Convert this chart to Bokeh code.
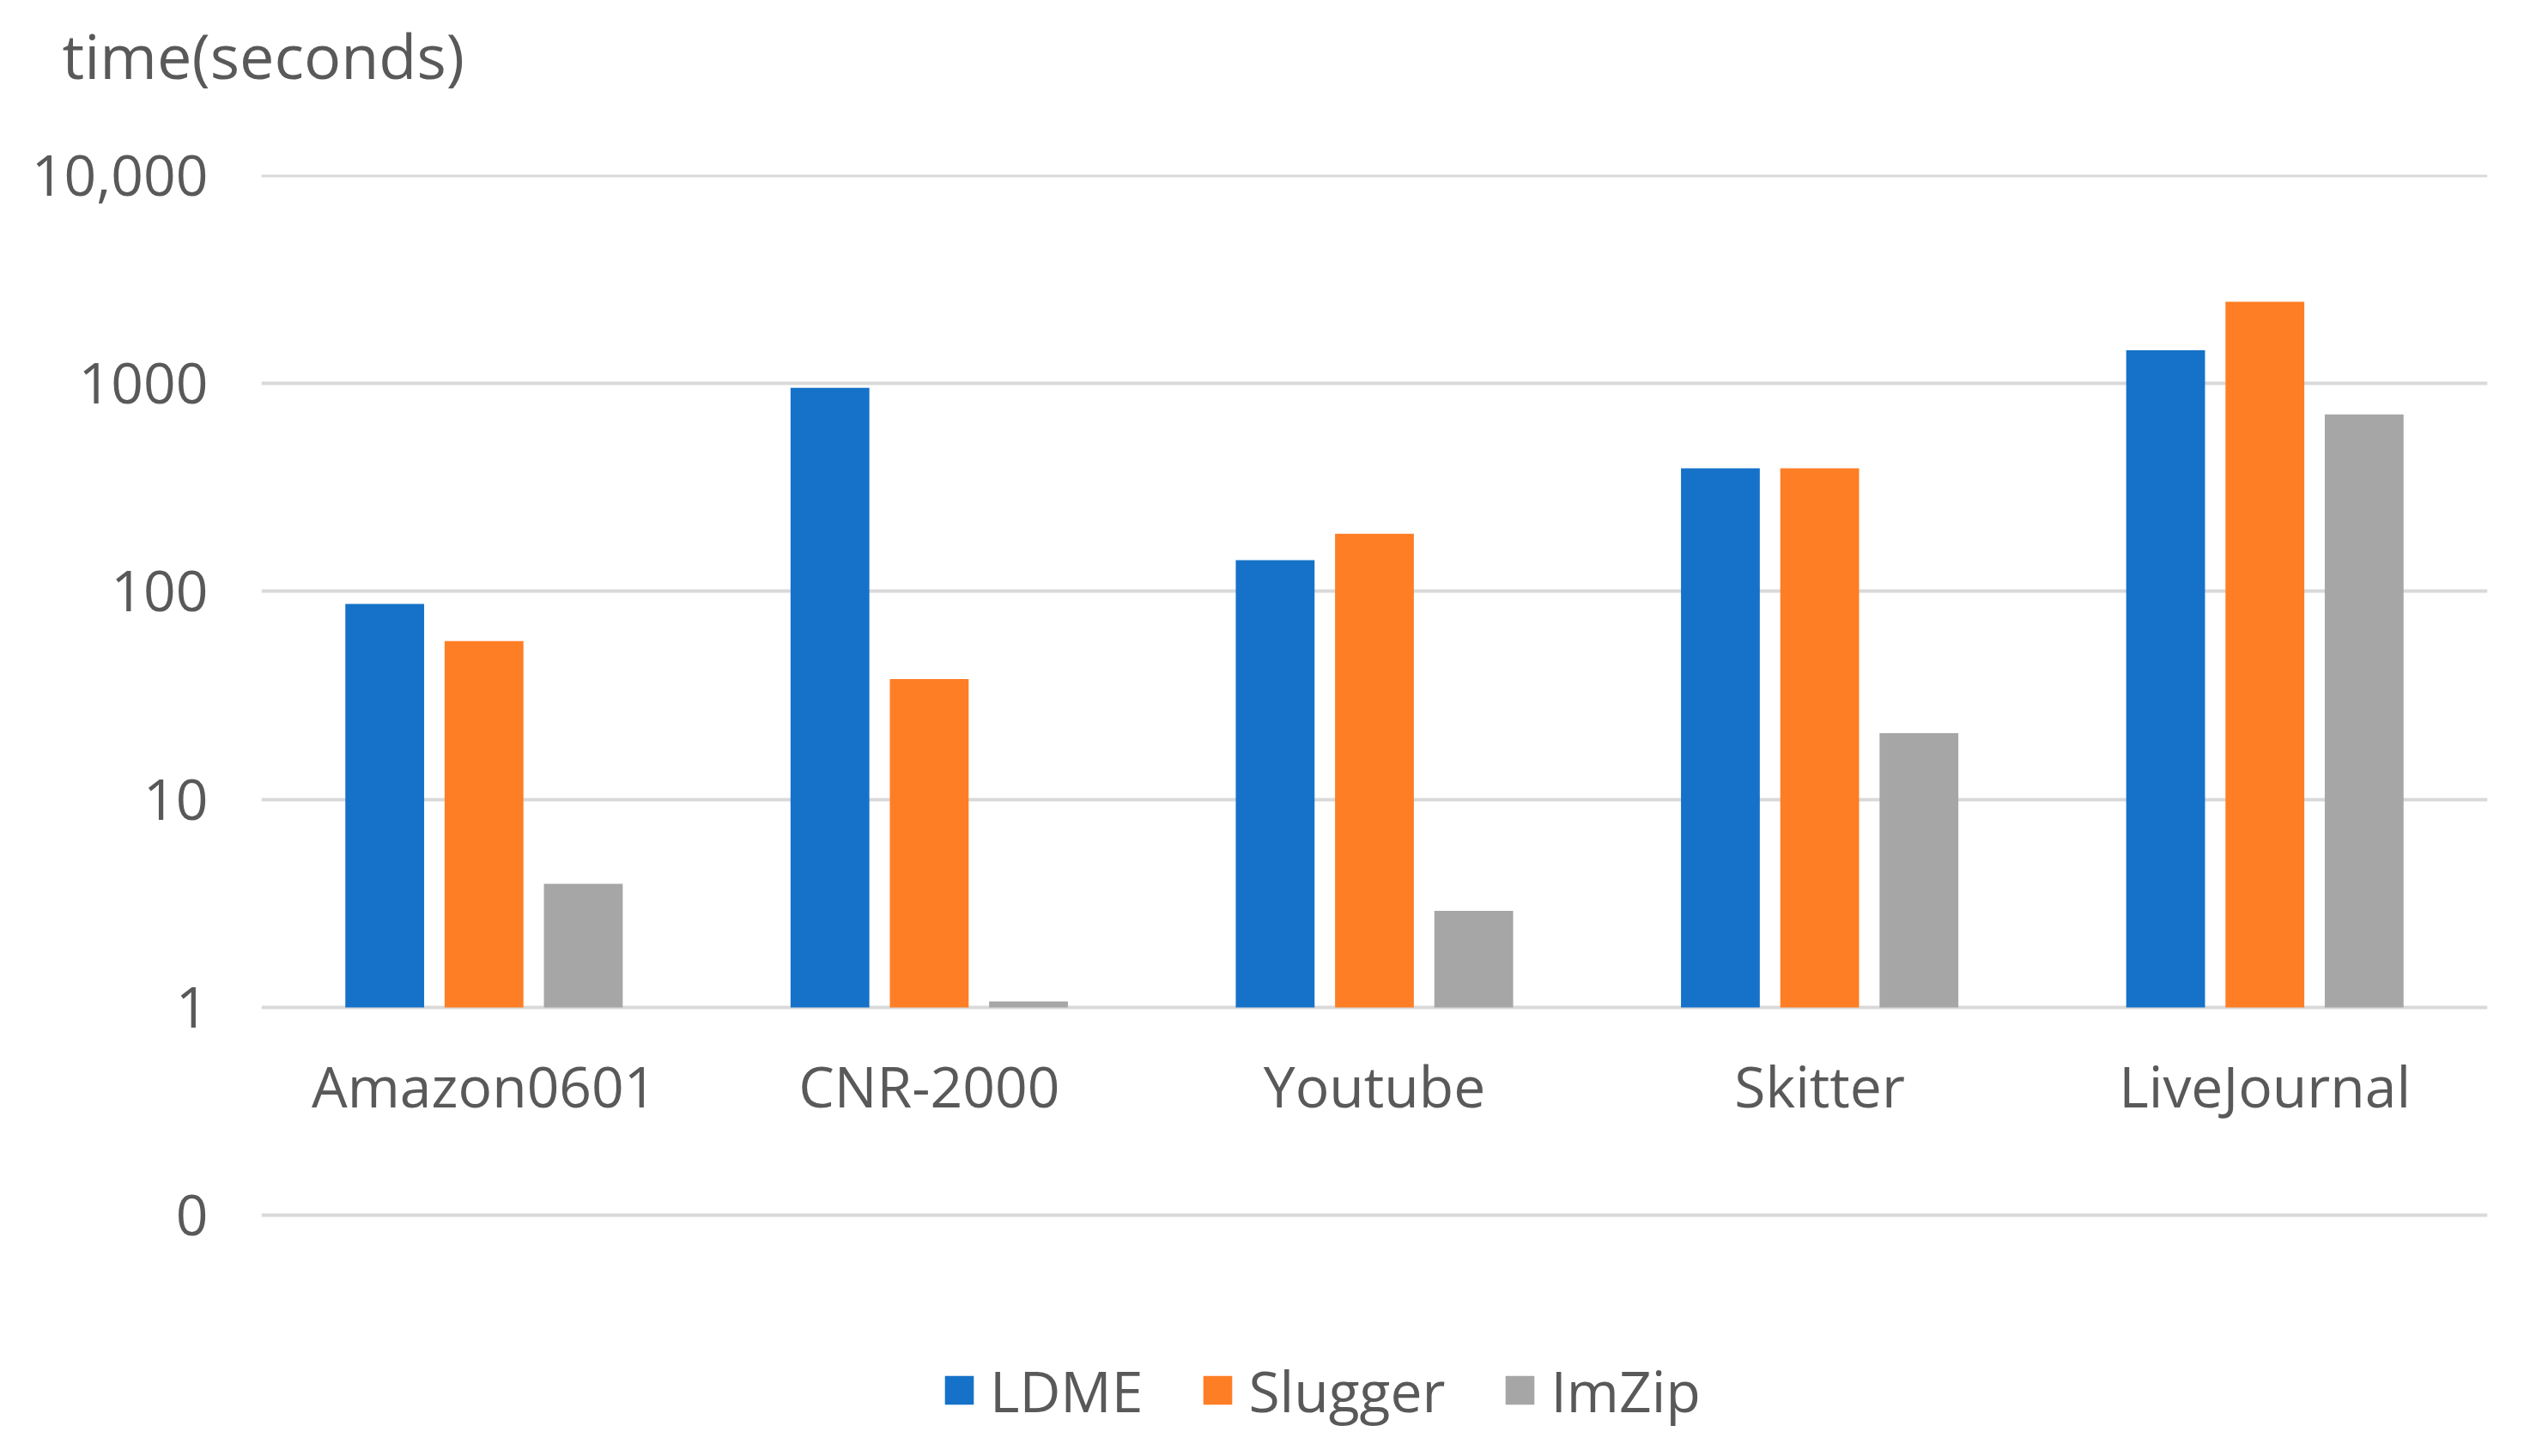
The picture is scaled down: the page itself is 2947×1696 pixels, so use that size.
from bokeh.plotting import figure
from bokeh.models import (ColumnDataSource, FactorRange, Range1d, FixedTicker,
                          Legend, LegendItem, Title)
from bokeh.transform import dodge
from bokeh.embed import file_html
from bokeh.resources import INLINE

# ---- data ----
datasets = ["Amazon0601", "CNR-2000", "Youtube", "Skitter", "LiveJournal"]
ldme = [87, 951, 141, 390, 1442]
slugger = [57.6, 37.9, 189, 390, 2462]
imzip = [3.93, 1.07, 2.91, 20.8, 708]
series_names = ["LDME", "Slugger", "ImZip"]
y_ticks = [0.1, 1, 10, 100, 1000, 10000]
y_tick_labels = ["0", "1", "10", "100", "1000", "10,000"]
title_text = "time(seconds)"

colors = ["#1572C8", "#FE7E25", "#A6A6A6"]
FONT = "Open Sans"
TXT = "#595959"
FS = "66px"

src = ColumnDataSource(data=dict(cat=datasets, LDME=ldme, Slugger=slugger,
                                 ImZip=imzip, base=[1] * len(datasets)))

W, H = 2930, 1680
# the frame runs down to the bottom of the canvas so that the legend sits inside it
p = figure(width=W, height=H, x_range=FactorRange(*datasets),
           y_range=Range1d(0.0081, 10050), y_axis_type="log",
           output_backend="svg", toolbar_location=None, title=None,
           min_border_left=304, min_border_right=33,
           min_border_top=203, min_border_bottom=0)
p.outline_line_color = None
p.background_fill_color = "white"
p.border_fill_color = "white"

offsets = [-0.223, 0.0, 0.223]
renderers = []
for name, off, col in zip(series_names, offsets, colors):
    r = p.vbar(x=dodge("cat", off, range=p.x_range), top=name, bottom="base",
               width=0.177, source=src, fill_color=col, line_color=None)
    renderers.append(r)

# grid
p.xgrid.grid_line_color = None
p.ygrid.grid_line_color = "#D9D9D9"
p.ygrid.grid_line_width = 4
p.ygrid.ticker = FixedTicker(ticks=y_ticks)

# y axis
yax = p.yaxis[0]
yax.ticker = FixedTicker(ticks=y_ticks)
yax.major_label_overrides = {t: l for t, l in zip(y_ticks, y_tick_labels)}
yax.axis_line_color = None
yax.major_tick_line_color = None
yax.minor_tick_line_color = None
yax.major_tick_out = 0
yax.major_tick_in = 0
yax.minor_tick_out = 0
yax.major_label_standoff = 62
yax.major_label_text_font = FONT
yax.major_label_text_font_size = FS
yax.major_label_text_color = TXT

# x axis drawn at y = 1
xax = p.xaxis[0]
xax.fixed_location = 1
xax.axis_line_color = None
xax.major_tick_line_color = None
xax.minor_tick_line_color = None
xax.major_tick_out = 0
xax.major_tick_in = 0
xax.major_label_standoff = 45
xax.major_label_text_font = FONT
xax.major_label_text_font_size = FS
xax.major_label_text_color = TXT

# legend
items = [LegendItem(label=n, renderers=[r]) for n, r in zip(series_names, renderers)]
leg = Legend(items=items, orientation="horizontal", location=(792, 16),
             label_text_font=FONT, label_text_font_size=FS, label_text_color=TXT,
             glyph_width=42, glyph_height=42, label_standoff=15, spacing=66,
             border_line_color=None, background_fill_alpha=0, margin=0, padding=0)
p.add_layout(leg, "center")

# spacer (nearest the frame) then the title at the top-left
p.add_layout(Title(text=" ", text_font_size="1px", standoff=83), "above")
p.add_layout(Title(text=title_text, align="left", offset=-232, standoff=10,
                   vertical_align="bottom",
                   text_font=FONT, text_font_size="72px", text_color=TXT,
                   text_font_style="normal"), "above")

open("out.html", "w").write(file_html(p, INLINE))
